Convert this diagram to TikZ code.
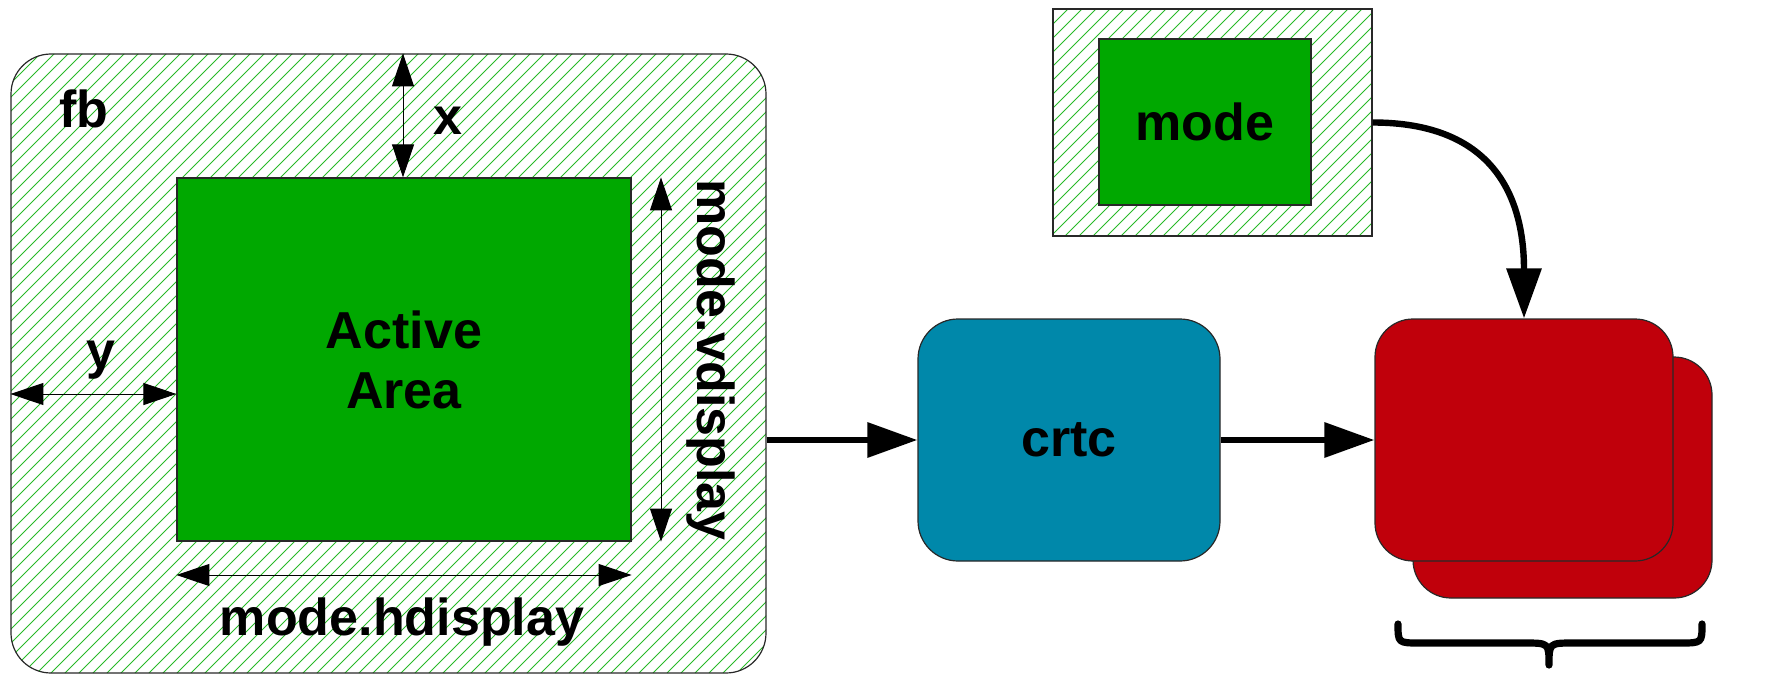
\documentclass[tikz,border=0pt]{standalone}
\usepackage{fontspec}
\setmainfont{Liberation Sans}
\usetikzlibrary{arrows.meta}
\definecolor{actgreen}{RGB}{0,168,0}
\definecolor{hatchgreen}{RGB}{40,185,40}
\definecolor{crtcblue}{RGB}{0,136,170}
\definecolor{encred}{RGB}{192,0,11}
\definecolor{edgec}{RGB}{40,40,40}
\begin{document}
\begin{tikzpicture}[x=0.5pt,y=-0.5pt,
  lbl/.style={font=\fontsize{26}{30}\selectfont\bfseries},
  box/.style={draw=edgec, line width=0.6pt, inner sep=0pt},
  hatched/.style={path picture={\foreach \k in {0,...,110}{\draw[draw=hatchgreen,line width=0.4pt] ([xshift=\k*7pt-330pt]path picture bounding box.south west) -- ++(420pt,420pt);}}},
  dim/.style={draw=black, line width=0.5pt, arrows={Triangle[length=16.5pt,width=11pt]-Triangle[length=16.5pt,width=11pt]}},
  flow/.style={line width=3.2pt, arrows={-Triangle[length=25pt,width=17pt]}},
]
\useasboundingbox (0,0) rectangle (1792,674);

% framebuffer
\node[box,hatched,rounded corners=20pt,minimum width=377.5pt,minimum height=309.5pt] (fb) at (388.5,363.5) {};
\node[lbl,anchor=base] (fblbl) at (84,127) {fb};
\node[box,fill=actgreen,minimum width=227pt,minimum height=181.5pt,lbl,align=center] (active) at (404,359.5) {Active\\Area};

\coordinate (xa) at (403,0);
\coordinate (ya) at (0,394);
\coordinate (va) at (661,0);
\coordinate (ha) at (0,575);

\draw[dim] (fb.north -| xa) -- (active.north -| xa);
\node[lbl,anchor=base] (xl) at (448,134) {x};
\draw[dim] (fb.west |- ya) -- (active.west |- ya);
\node[lbl,anchor=base] (yl) at (101,368) {y};
\draw[dim] (active.north -| va) -- (active.south -| va);
\node[lbl,anchor=base,rotate=-90] (vl) at (697,360) {mode.vdisplay};
\draw[dim] (active.west |- ha) -- (active.east |- ha);
\node[lbl,anchor=base] (hl) at (402,635) {mode.hdisplay};

% crtc
\node[box,fill=crtcblue,rounded corners=20pt,minimum width=151pt,minimum height=121pt,lbl] (crtc) at (1069,440) {crtc};

% encoders
\node[box,fill=encred,rounded corners=19pt,minimum width=149.5pt,minimum height=120.5pt] (encb) at (1562.5,477.5) {};
\node[box,fill=encred,rounded corners=19pt,minimum width=149pt,minimum height=121pt] (encf) at (1524,440) {};

% mode
\node[box,hatched,minimum width=159.5pt,minimum height=113.5pt] (modeo) at (1212.5,122.5) {};
\node[box,fill=actgreen,minimum width=106pt,minimum height=83pt,lbl] (modei) at (1205,122) {mode};

% connectors
\draw[flow] (fb.east |- crtc.west) -- (crtc.west);
\draw[flow] (crtc.east) -- (encf.west);
\draw[flow] (modeo.east) .. controls +(118,0) and +(0,-125) .. (encf.north);

% brace
\draw[line width=3.6pt, line cap=round, line join=round] (1398,624) .. controls (1398,643) .. (1420,643) -- (1524,643) .. controls (1549,643) .. (1549,665) .. controls (1549,643) .. (1574,643) -- (1680,643) .. controls (1702,643) .. (1702,624);
\end{tikzpicture}
\end{document}
